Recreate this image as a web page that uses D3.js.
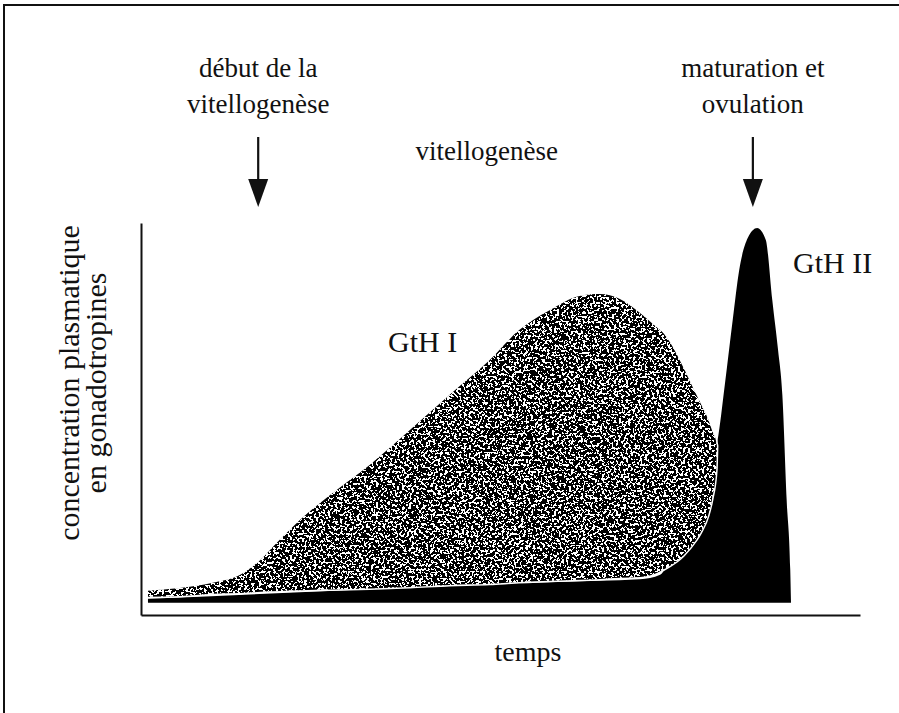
<!DOCTYPE html>
<html>
<head>
<meta charset="utf-8">
<script src="https://cdn.jsdelivr.net/npm/d3@7"></script>
<style>
  html, body { margin: 0; padding: 0; background: #fff; }
  svg { display: block; }
</style>
</head>
<body>
<svg id="chart" width="899" height="713"></svg>
<script>
// ---- data (time in arbitrary units 0-100, concentration in arbitrary units) ----
const gth2X   = [0.97, 8.2, 22.1, 36.0, 54.1, 63.8, 69.4, 72.2, 73.6, 74.9, 76.4, 77.7, 79.1, 80.2, 81.2, 82.3, 83.2, 84.4, 85.7, 86.9, 87.8, 88.6, 89.2, 89.8, 90.3, 90.4];
const gth2Val = [1.05, 1.6, 2.8, 3.9, 5.3, 5.8, 6.2, 7.4, 11.3, 15.3, 21.8, 28.4, 36.3, 42.9, 57.4, 74.5, 87.6, 96.1, 98.7, 95.5, 79.7, 66.6, 54.7, 27.1, 8.7, 0.3];

const gth1X    = [0.97, 5.4, 10.0, 13.8, 16.6, 19.3, 22.1, 26.3, 31.8, 37.4, 42.9, 48.5, 52.6, 56.9, 61.0, 63.8, 66.6, 69.4, 71.8, 72.6, 75.4, 77.1, 77.8, 78.9, 79.4, 80.0, 80.1];
const gth1High = [3.2, 3.9, 5.3, 7.4, 11.3, 16.6, 21.8, 28.4, 36.3, 45.5, 54.7, 63.9, 71.8, 77.1, 80.8, 81.3, 80.0, 76.3, 72.4, 71.1, 62.1, 55.3, 52.6, 48.2, 45.5, 42.4, 41.3];
const gth1Low  = [1.6, 1.8, 2.4, 2.6, 2.9, 3.1, 3.3, 3.5, 3.8, 4.2, 4.7, 5.0, 5.5, 5.8, 6.1, 6.3, 6.6, 6.8, 7.9, 8.7, 12.4, 16.3, 18.4, 23.2, 27.1, 35.0, 41.3];

const eventX      = [16.3, 85.1];
const eventLabels = [["début de la", "vitellogenèse"], ["maturation et", "ovulation"]];
const phaseLabel  = "vitellogenèse";
const phaseX      = 48.1;
const seriesLabels = ["GtH I", "GtH II"];
const xTitle = "temps";
const yTitle = ["concentration plasmatique", "en gonadotropines"];

// ---- layout ----
const svg = d3.select("#chart");
const font = "'Liberation Serif', 'Times New Roman', serif";

const x = d3.scaleLinear().domain([0, 100]).range([141, 860]);
const y = d3.scaleLinear().domain([-3.2, 100]).range([615, 223]);

// frame
svg.append("path")
  .attr("d", "M4,713 L4,5 L899,5")
  .attr("fill", "none").attr("stroke", "#111").attr("stroke-width", 2);

// speckle texture filter
const defs = svg.append("defs");
const f = defs.append("filter").attr("id", "speckle")
  .attr("filterUnits", "userSpaceOnUse")
  .attr("x", 0).attr("y", 0).attr("width", 899).attr("height", 713);
f.append("feTurbulence").attr("type", "fractalNoise").attr("baseFrequency", 0.42)
  .attr("numOctaves", 2).attr("seed", 7).attr("result", "noise");
f.append("feColorMatrix").attr("in", "noise").attr("type", "matrix")
  .attr("values", "0 0 0 0 1  0 0 0 0 1  0 0 0 0 1  1 0 0 0 0").attr("result", "na");
const ct = f.append("feComponentTransfer").attr("in", "na").attr("result", "thr");
ct.append("feFuncA").attr("type", "discrete").attr("tableValues", "0 0 0 0 0 0 1 1 1 1 1");
f.append("feComposite").attr("in", "thr").attr("in2", "SourceAlpha").attr("operator", "in").attr("result", "spots");
const m = f.append("feMerge");
m.append("feMergeNode").attr("in", "SourceGraphic");
m.append("feMergeNode").attr("in", "spots");

// GtH II (black) with baseline
const gth2 = gth2X.map((d, i) => ({ x: d, v: gth2Val[i] }));
const area2 = d3.area().x(d => x(d.x)).y0(y(0)).y1(d => y(d.v)).curve(d3.curveMonotoneX);
svg.append("path").datum(gth2).attr("d", area2).attr("fill", "#000");

// GtH I (stippled)
const gth1 = gth1X.map((d, i) => ({ x: d, lo: gth1Low[i], hi: gth1High[i] }));
const area1 = d3.area().x(d => x(d.x)).y0(d => y(d.lo)).y1(d => y(d.hi)).curve(d3.curveMonotoneX);
svg.append("path").datum(gth1).attr("d", area1)
  .attr("fill", "none").attr("stroke", "#fff").attr("stroke-width", 3);
svg.append("path").datum(gth1).attr("d", area1)
  .attr("fill", "#050505").attr("filter", "url(#speckle)");

// axes (no ticks)
const xAxis = d3.axisBottom(x).tickValues([]).tickSizeOuter(0);
const yAxis = d3.axisLeft(y).tickValues([]).tickSizeOuter(0);
const gx = svg.append("g").attr("transform", `translate(0,${y(-3.2)})`).call(xAxis);
const gy = svg.append("g").attr("transform", `translate(${x(0)},0)`).call(yAxis);
[gx, gy].forEach(g => g.select(".domain").attr("stroke", "#111").attr("stroke-width", 2));

// event annotations with arrows
eventX.forEach((ex, i) => {
  const cx = x(ex);
  eventLabels[i].forEach((t, j) => {
    svg.append("text").attr("x", cx).attr("y", 77 + j * 36)
      .attr("text-anchor", "middle").attr("font-family", font).attr("font-size", 27)
      .attr("fill", "#111").text(t);
  });
  svg.append("line").attr("x1", cx).attr("x2", cx).attr("y1", 137).attr("y2", 182)
    .attr("stroke", "#111").attr("stroke-width", 2.2);
  svg.append("path")
    .attr("d", `M${cx - 10},179 L${cx + 10},179 L${cx},207 Z`).attr("fill", "#111");
});

svg.append("text").attr("x", x(phaseX)).attr("y", 160)
  .attr("text-anchor", "middle").attr("font-family", font).attr("font-size", 27)
  .attr("fill", "#111").text(phaseLabel);

// series labels
svg.append("text").attr("x", 388).attr("y", 352).attr("font-family", font).attr("font-size", 30)
  .attr("fill", "#111").text(seriesLabels[0]);
svg.append("text").attr("x", 793).attr("y", 273).attr("font-family", font).attr("font-size", 30)
  .attr("fill", "#111").text(seriesLabels[1]);

// axis titles
svg.append("text").attr("x", 528).attr("y", 661).attr("text-anchor", "middle")
  .attr("font-family", font).attr("font-size", 28).attr("fill", "#111").text(xTitle);
yTitle.forEach((t, j) => {
  svg.append("text").attr("transform", `translate(${79 + j * 27},383) rotate(-90)`)
    .attr("text-anchor", "middle").attr("font-family", font).attr("font-size", 30)
    .attr("fill", "#111").text(t);
});
</script>
</body>
</html>
